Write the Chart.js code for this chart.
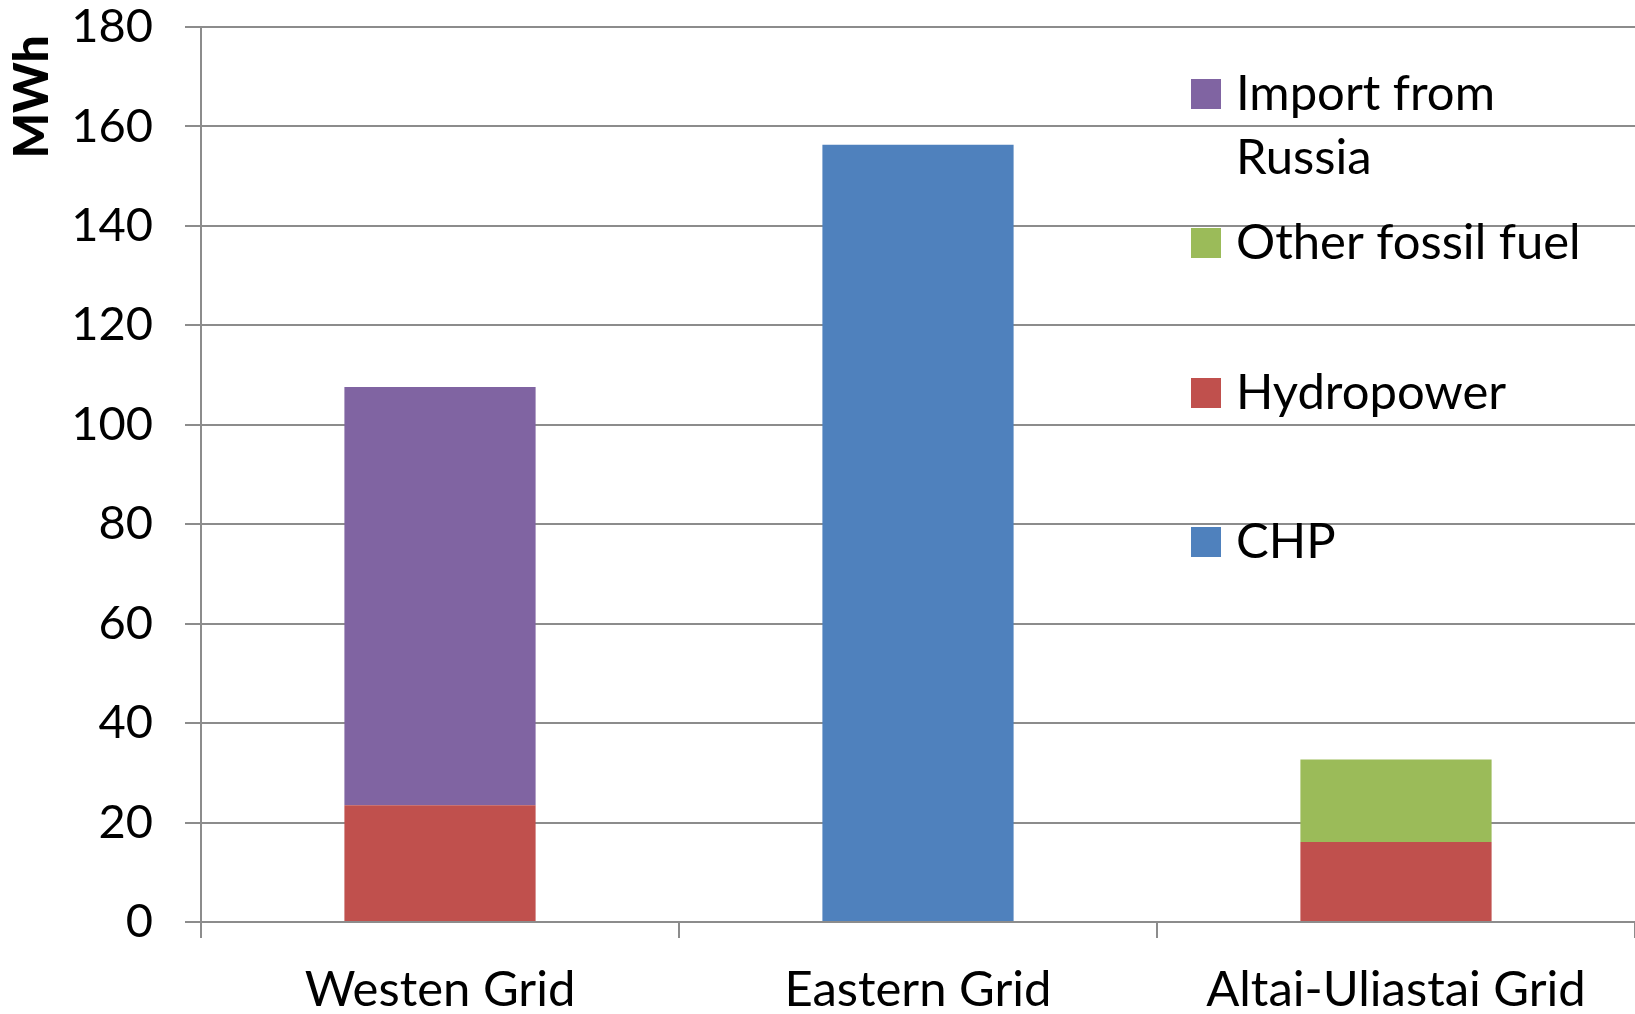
<!DOCTYPE html>
<html>
<head>
<meta charset="utf-8">
<script src="https://cdn.jsdelivr.net/npm/chart.js@4/dist/chart.umd.min.js"></script>
<style>
  html, body { margin: 0; padding: 0; background: #fff; }
  #wrap { width: 1635px; height: 1014px; }
</style>
</head>
<body>
<div id="wrap"><canvas id="chartEnergi" width="1635" height="1014"></canvas></div>
<script>
const categories = ["Westen Grid", "Eastern Grid", "Altai-Uliastai Grid"];
const chp = [0, 156.3, 0];
const hydropower = [23.5, 0, 16.1];
const otherFossil = [0, 0, 16.6];
const importRussia = [84.1, 0, 0];
const yTicks = [0, 20, 40, 60, 80, 100, 120, 140, 160, 180];

const FONT = "Lato, 'Open Sans', sans-serif";

// legend drawn inside the plot, top to bottom
const legendPlugin = {
    id: "legendKanan",
    afterDraw(chart) {
        const c = chart.ctx;
        const order = [3, 2, 1, 0];
        const rowY = [94, 243, 393, 542];
        c.save();
        c.font = "49px " + FONT;
        c.fillStyle = "#000";
        c.textBaseline = "middle";
        order.forEach((di, i) => {
            const ds = chart.data.datasets[di];
            c.fillStyle = ds.backgroundColor;
            c.fillRect(1191, rowY[i] - 15, 30, 30);
            c.fillStyle = "#000";
            const lines = Array.isArray(ds.label) ? ds.label : [ds.label];
            lines.forEach((t, k) => c.fillText(t, 1236, rowY[i] + k * 64));
        });
        // axis title
        c.translate(33, 97);
        c.rotate(-Math.PI / 2);
        c.font = "900 48px " + FONT;
        c.textAlign = "center";
        c.fillText("MWh", 0, 0);
        c.restore();
    }
};

const ctx = document.getElementById("chartEnergi").getContext("2d");
new Chart(ctx, {
    type: "bar",
    data: {
        labels: categories,
        datasets: [
            { label: "CHP", data: chp, backgroundColor: "#4F81BD" },
            { label: "Hydropower", data: hydropower, backgroundColor: "#C0504D" },
            { label: "Other fossil fuel", data: otherFossil, backgroundColor: "#9BBB59" },
            { label: ["Import from", "Russia"], data: importRussia, backgroundColor: "#8064A2" },
        ],
    },
    options: {
        responsive: false,
        animation: false,
        layout: { padding: { top: 27, right: 0, left: 0, bottom: 0 } },
        plugins: { legend: { display: false }, tooltip: { enabled: false } },
        datasets: { bar: { categoryPercentage: 1, barPercentage: 0.4 } },
        scales: {
            x: {
                stacked: true,
                offset: true,
                grid: { offset: true, drawOnChartArea: false, color: "#8c8c8c", lineWidth: 2, tickLength: 16 },
                border: { color: "#8c8c8c", width: 2 },
                ticks: { color: "#000", font: { family: FONT, size: 49 }, padding: 23, maxRotation: 0 },
                afterFit(s) { s.height = 92; },
            },
            y: {
                stacked: true,
                min: 0,
                max: 180,
                afterBuildTicks(s) { s.ticks = yTicks.map(v => ({ value: v })); },
                grid: { color: "#8c8c8c", lineWidth: 2, tickLength: 16 },
                border: { color: "#8c8c8c", width: 2 },
                ticks: { color: "#000", font: { family: FONT, size: 47, lineHeight: 0.6 }, padding: 32 },
                afterFit(s) { s.width = 201; s.paddingTop = 0; s.paddingBottom = 0; },
            },
        },
    },
    plugins: [legendPlugin],
});
</script>
</body>
</html>
